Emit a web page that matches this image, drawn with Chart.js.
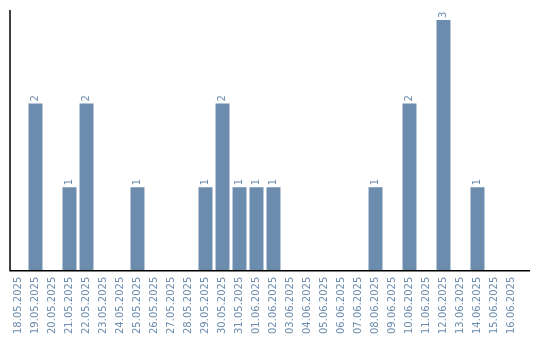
<!DOCTYPE html>
<html>
<head>
<meta charset="utf-8">
<script src="https://cdn.jsdelivr.net/npm/chart.js@4"></script>
<style>
  html, body { margin: 0; padding: 0; background: #fff; }
  #wrap { width: 540px; height: 340px; }
</style>
</head>
<body>
<div id="wrap"><canvas id="barChart" width="540" height="340"></canvas></div>
<script>
// dates shown along the x axis
const dates = [
    "18.05.2025", "19.05.2025", "20.05.2025", "21.05.2025", "22.05.2025",
    "23.05.2025", "24.05.2025", "25.05.2025", "26.05.2025", "27.05.2025",
    "28.05.2025", "29.05.2025", "30.05.2025", "31.05.2025", "01.06.2025",
    "02.06.2025", "03.06.2025", "04.06.2025", "05.06.2025", "06.06.2025",
    "07.06.2025", "08.06.2025", "09.06.2025", "10.06.2025", "11.06.2025",
    "12.06.2025", "13.06.2025", "14.06.2025", "15.06.2025", "16.06.2025"
];
// count per day (0 = no bar)
const counts = [
    0, 2, 0, 1, 2,
    0, 0, 1, 0, 0,
    0, 1, 2, 1, 1,
    1, 0, 0, 0, 0,
    0, 1, 0, 2, 0,
    3, 0, 1, 0, 0
];

const blue = "rgb(107, 140, 173)";

// value labels written vertically above each bar
const valueLabels = {
    id: "valueLabels",
    afterDatasetsDraw(chart) {
        const ctx = chart.ctx;
        const meta = chart.getDatasetMeta(0);
        ctx.save();
        ctx.font = "10px 'DejaVu Sans'";
        ctx.fillStyle = blue;
        ctx.textAlign = "left";
        ctx.textBaseline = "middle";
        meta.data.forEach((bar, i) => {
            if (!counts[i]) return;
            ctx.save();
            ctx.translate(bar.x, bar.y - 2);
            ctx.rotate(-Math.PI / 2);
            ctx.fillText(String(counts[i]), 0, 0);
            ctx.restore();
        });
        ctx.restore();
    }
};

// axis lines (x axis runs a bit past the last category)
const axisLines = {
    id: "axisLines",
    afterDraw(chart) {
        const a = chart.chartArea;
        const ctx = chart.ctx;
        ctx.save();
        ctx.strokeStyle = "#000";
        ctx.lineWidth = 1.5;
        ctx.beginPath();
        ctx.moveTo(a.left, a.top);
        ctx.lineTo(a.left, a.bottom);
        ctx.lineTo(a.right + 10, a.bottom);
        ctx.stroke();
        ctx.restore();
    }
};

const ctx = document.getElementById("barChart").getContext("2d");
new Chart(ctx, {
    type: "bar",
    data: {
        labels: dates,
        datasets: [{
            data: counts,
            backgroundColor: blue,
            borderWidth: 0,
            barPercentage: 0.82,
            categoryPercentage: 1.0
        }]
    },
    options: {
        responsive: false,
        animation: false,
        layout: { padding: { left: 10, right: 20, top: 10, bottom: 0 } },
        plugins: {
            legend: { display: false },
            tooltip: { enabled: false }
        },
        scales: {
            x: {
                grid: { display: false, drawTicks: false },
                border: { display: false },
                ticks: {
                    color: blue,
                    font: { family: "'DejaVu Sans'", size: 10 },
                    minRotation: 90,
                    maxRotation: 90,
                    autoSkip: false,
                    padding: 6
                }
            },
            y: {
                min: 0,
                // leave a little room above the tallest bar
                max: Math.max(...counts) * 1.04,
                grid: { display: false, drawTicks: false },
                border: { display: false },
                ticks: { display: false }
            }
        }
    },
    plugins: [valueLabels, axisLines]
});
</script>
</body>
</html>
